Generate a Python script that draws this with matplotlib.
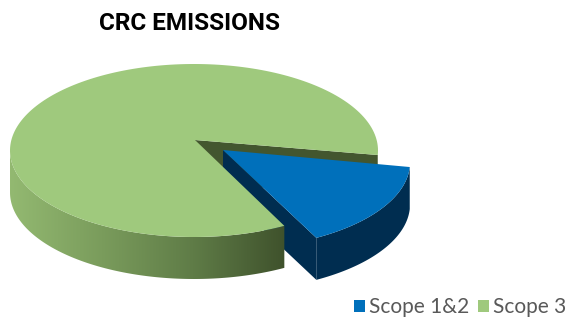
import numpy as np
import matplotlib
matplotlib.use('Agg')
import matplotlib.pyplot as plt
from matplotlib.colors import LinearSegmentedColormap
from matplotlib.patches import Polygon

labels = ['Scope 1&2', 'Scope 3']
values = [16, 84]
title = 'CRC EMISSIONS'

# pie geometry in pixels
cx, cy = 194, 150.5
rx, ry = 184, 86.5
apex = np.array([195, 140])
depth = 42
explode = np.array([32, 12])
start_angle = 3

blue_top = '#0070bb'
blue_side = '#002d50'
green_top = '#9fc97d'
green_cut = '#43562f'


def arc(t1, t2, shift=(0, 0)):
    t = np.radians(np.linspace(t1, t2, 200))
    return np.column_stack([cx + rx * np.cos(t) + shift[0], cy + ry * np.sin(t) + shift[1]])


fig = plt.figure(figsize=(5.68, 3.2), dpi=100)
ax = fig.add_axes([0, 0, 1, 1])

sweep = values[0] / sum(values) * 360
t0 = start_angle
t1 = start_angle + sweep
down = np.array([0, depth])

# cut face of the green part, seen through the gap
p0 = arc(t0, t0)[0]
ax.add_patch(Polygon([apex, p0, p0 + down, apex + down], color=green_cut, lw=0, zorder=1))

# blue slice, sides first
blue_arc = arc(t0, t1, explode)
b_apex = apex + np.array([28, 10])
ax.add_patch(Polygon(np.vstack([blue_arc, (blue_arc + down)[::-1]]), color=blue_side, lw=0, zorder=2))
ax.add_patch(Polygon([b_apex, blue_arc[-1], blue_arc[-1] + down, b_apex + down], color=blue_side, lw=0, zorder=2))

# green outer wall with left to right shading
wall_top = arc(t1, 180)
wall = np.vstack([wall_top, (wall_top + down)[::-1]])
shade = LinearSegmentedColormap.from_list('wall', ['#93b971', '#7a9c5c', '#5f7c47', '#3f522c'])
im = ax.imshow(np.linspace(0, 1, 256)[None, :], cmap=shade, aspect='auto',
               extent=(wall[:, 0].min(), wall[:, 0].max(), 320, 0), zorder=3)
clip = Polygon(wall, transform=ax.transData)
im.set_clip_path(clip)

# top faces
green_arc = arc(t1, t0 + 360)
green_wedge = ax.fill(*np.vstack([apex, green_arc]).T, color=green_top, lw=0, zorder=4, label=labels[1])[0]
blue_wedge = ax.fill(*np.vstack([b_apex, blue_arc]).T, color=blue_top, lw=0, zorder=5, label=labels[0])[0]

ax.set_xlim(0, 568)
ax.set_ylim(320, 0)
ax.axis('off')

ax.text(189.5, 24, title, ha='center', va='center', fontsize=17.5, fontweight='bold',
        family=['Liberation Sans Narrow', 'Roboto'], color='black')

ax.legend(handles=[blue_wedge, green_wedge], labels=labels, ncol=2, frameon=False,
          loc='lower right', bbox_to_anchor=(1.005, -0.005), labelcolor='#595959',
          handlelength=0.53, handleheight=0.53, handletextpad=0.2, columnspacing=0.43,
          borderpad=0, borderaxespad=0.2, prop={'family': 'Lato', 'size': 15})

fig.savefig('out.png', dpi=100)
